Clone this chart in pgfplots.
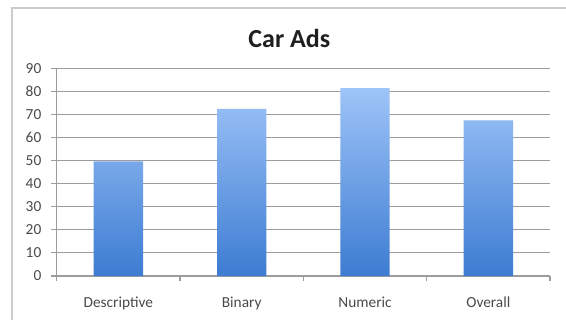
\documentclass[border=0pt]{standalone}
\usepackage{pgfplots}
\pgfplotsset{compat=1.18}
\usepackage{fontspec}
\setmainfont{Carlito}
\definecolor{barTop}{HTML}{9EC4F8}
\definecolor{barBot}{HTML}{3D7CD2}
\definecolor{gridc}{HTML}{9C9C9C}
\definecolor{labc}{HTML}{4A4A4A}
\definecolor{framec}{HTML}{CCCCCC}
\begin{document}
\begin{tikzpicture}
\useasboundingbox (0,0) rectangle (424.5pt,-240pt);
\fill[white] (0,0) rectangle (424.5pt,-240pt);
\draw[framec, line width=0.8pt] (9pt,-245pt) -- (9pt,-6pt) -- (430pt,-6pt);
\node[font=\fontsize{19.5}{23}\selectfont\bfseries, text=black!88] at (217pt,-28.5pt) {Car Ads};
\begin{axis}[
  at={(42.5pt,-207pt)}, anchor=south west,
  scale only axis, width=370pt, height=155.6pt,
  xmin=-0.5, xmax=3.5, ymin=0, ymax=90,
  axis x line*=bottom, axis y line*=left,
  axis line style={gridc, line width=0.8pt},
  ytick={0,10,...,90},
  xtick={0,1,2,3},
  xticklabels={Descriptive,Binary,Numeric,Overall},
  minor xtick={-0.5,0.5,1.5,2.5,3.5},
  major x tick style={draw=none},
  minor x tick style={gridc, line width=0.8pt},
  y tick style={gridc, line width=0.8pt},
  tick align=outside,
  major tick length=4pt, minor tick length=4pt,
  ymajorgrids, grid style={gridc, line width=0.8pt},
  /pgf/number format/assume math mode=true,
  ticklabel style={font=\fontsize{11.5}{13}\selectfont, text=labc},
  yticklabel style={xshift=-4pt},
  xticklabel style={anchor=base, yshift=-19.5pt},
  clip=false,
]
\addplot[ybar, bar width=37pt, draw=none, top color=barTop, bottom color=barBot]
  coordinates {(0,49.7) (1,72.5) (2,81.5) (3,67.5)};
\end{axis}
\end{tikzpicture}
\end{document}
